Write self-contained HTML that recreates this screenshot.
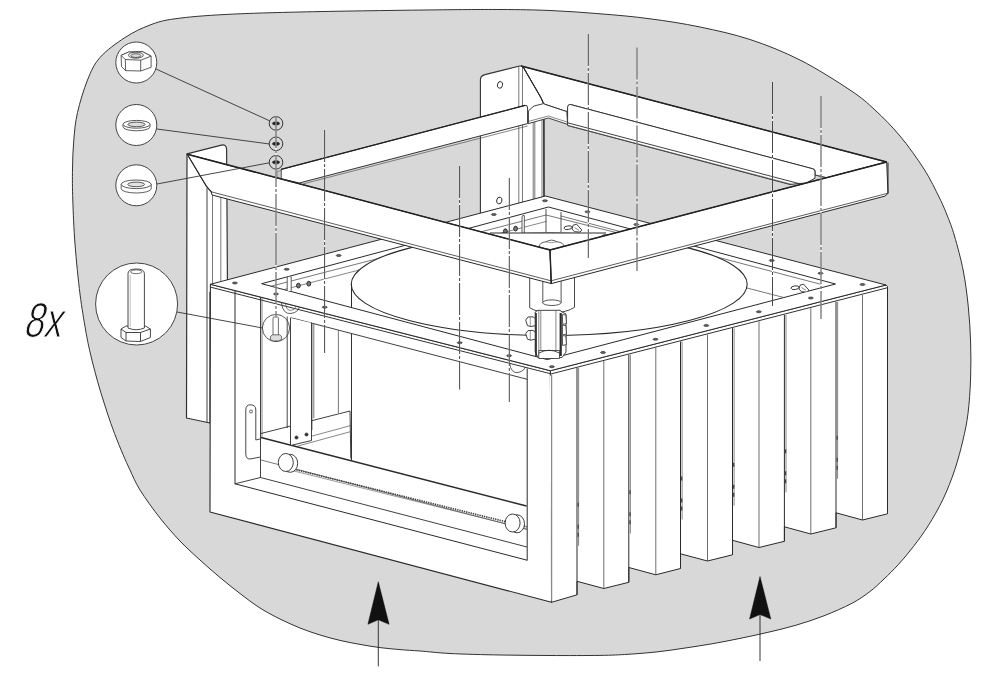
<!DOCTYPE html>
<html><head><meta charset="utf-8"><title>Assembly step</title>
<style>
html,body{margin:0;padding:0;background:#fff;}
body{width:1000px;height:675px;overflow:hidden;font-family:"Liberation Sans",sans-serif;}
svg{display:block}
</style></head><body>
<svg width="1000" height="675" viewBox="0 0 1000 675">
<rect width="1000" height="675" fill="#fff"/>
<path d="M300.0,12.0C333.3,11.2 391.7,10.4 425.0,10.0C458.3,9.6 479.2,9.4 500.0,9.5C520.8,9.6 533.3,9.8 550.0,10.5C566.7,11.2 583.3,12.4 600.0,13.8C616.7,15.1 633.3,16.5 650.0,18.8C666.7,21.0 683.3,23.5 700.0,27.0C716.7,30.5 733.3,34.0 750.0,39.5C766.7,45.0 783.3,51.6 800.0,60.0C816.7,68.4 837.5,81.7 850.0,90.0C862.5,98.3 866.7,102.3 875.0,110.0C883.3,117.7 891.8,126.2 900.0,136.0C908.2,145.8 917.4,158.7 924.0,169.0C930.6,179.3 935.7,190.3 939.5,198.0C943.3,205.7 944.5,208.7 947.0,215.0C949.5,221.3 951.8,226.7 954.5,236.0C957.2,245.3 961.0,259.2 963.3,271.0C965.6,282.8 967.1,295.0 968.3,306.8C969.5,318.6 970.2,330.1 970.6,342.0C971.0,353.9 971.0,366.1 970.6,378.0C970.2,389.9 969.3,403.2 968.0,413.5C966.7,423.8 965.2,430.6 963.0,440.0C960.8,449.4 958.1,459.7 954.8,469.6C951.5,479.5 947.5,489.9 943.0,499.3C938.5,508.7 933.1,518.0 928.1,525.9C923.1,533.8 918.2,540.3 913.3,546.7C908.4,553.1 903.4,559.0 898.5,564.4C893.6,569.8 888.8,574.5 884.0,579.0C879.2,583.5 875.3,587.5 870.0,591.5C864.7,595.5 859.7,599.2 852.0,603.3C844.3,607.3 833.3,612.1 824.0,615.8C814.7,619.4 805.3,622.5 796.0,625.2C786.7,628.0 777.3,630.1 768.0,632.3C758.7,634.5 749.3,636.5 740.0,638.4C730.7,640.3 721.3,642.2 712.0,643.8C702.7,645.4 693.3,646.8 684.0,648.2C674.7,649.6 665.3,651.0 656.0,652.0C646.7,653.0 637.3,653.7 628.0,654.3C618.7,654.9 613.0,655.2 600.0,655.4C587.0,655.6 566.7,655.6 550.0,655.5C533.3,655.4 516.7,655.3 500.0,655.0C483.3,654.7 463.3,654.2 450.0,653.5C436.7,652.8 428.3,651.6 420.0,651.0C411.7,650.4 406.7,650.2 400.0,649.6C393.3,649.0 386.7,648.5 380.0,647.6C373.3,646.7 366.7,645.6 360.0,644.4C353.3,643.2 346.7,642.0 340.0,640.4C333.3,638.8 326.7,637.1 320.0,635.0C313.3,632.9 306.7,630.7 300.0,628.0C293.3,625.3 286.7,622.3 280.0,619.0C273.3,615.7 266.7,612.2 260.0,608.0C253.3,603.8 246.7,598.6 240.0,593.5C233.3,588.4 226.7,583.1 220.0,577.5C213.3,571.9 206.7,566.1 200.0,560.0C193.3,553.9 186.7,548.0 180.0,541.0C173.3,534.0 166.7,526.5 160.0,518.0C153.3,509.5 145.0,498.0 140.0,490.0C135.0,482.0 132.8,475.9 130.0,470.0C127.2,464.1 125.6,460.6 123.0,454.5C120.4,448.4 117.2,440.6 114.6,433.7C112.0,426.8 109.6,419.9 107.3,413.0C105.0,406.1 102.8,399.1 100.7,392.2C98.6,385.3 96.7,378.4 94.9,371.5C93.1,364.6 91.2,357.6 89.7,350.7C88.2,343.8 87.2,339.4 85.6,330.0C84.0,320.6 81.8,308.3 80.0,294.0C78.2,279.7 76.2,259.7 75.0,244.0C73.8,228.3 73.2,212.5 72.8,200.0C72.4,187.5 72.3,179.0 72.5,169.0C72.7,159.0 72.9,149.4 73.8,140.0C74.6,130.6 75.2,122.5 77.5,112.5C79.8,102.5 83.8,89.2 87.5,80.0C91.2,70.8 93.8,64.6 100.0,57.5C106.2,50.4 116.7,42.9 125.0,37.5C133.3,32.1 141.7,28.1 150.0,25.0C158.3,21.9 162.5,20.5 175.0,18.8C187.5,17.0 204.2,15.6 225.0,14.5C245.8,13.4 266.7,12.8 300.0,12.0Z" fill="#d8d8d8" stroke="#333" stroke-width="1"/>
<path d="M187,153.8 L221.5,145.1 Q226.3,144.2 226.6,149 L227.5,292 L210,292 L210,423 L186.5,418 Z" fill="#fff" stroke="#333" stroke-width="1.2" stroke-linejoin="round"/>
<line x1="207.0" y1="187.5" x2="207.0" y2="422.5" stroke="#2a2a2a" stroke-width="0.9" />
<line x1="212.5" y1="193.5" x2="212.5" y2="284.0" stroke="#555" stroke-width="0.8" />
<line x1="220.8" y1="195.5" x2="220.8" y2="281.5" stroke="#555" stroke-width="0.8" />
<path d="M480.4,214 L480.4,80 Q480.4,75.6 485,74.6 L519.6,66 L521.2,66 L523.6,67.6 L541.2,98 L543.6,103.6 L544,197 L480.4,214 Z" fill="#fff" stroke="#333" stroke-width="1.1" stroke-linejoin="round"/>
<line x1="518.8" y1="66.5" x2="518.8" y2="204.0" stroke="#555" stroke-width="0.8" />
<line x1="522.5" y1="66.5" x2="522.5" y2="203.0" stroke="#555" stroke-width="0.8" />
<line x1="533.2" y1="122.0" x2="533.2" y2="200.0" stroke="#555" stroke-width="0.8" />
<line x1="534.8" y1="122.0" x2="534.8" y2="200.0" stroke="#555" stroke-width="0.8" />
<line x1="542.0" y1="118.0" x2="542.0" y2="197.5" stroke="#555" stroke-width="0.8" />
<line x1="544.0" y1="104.0" x2="544.0" y2="197.0" stroke="#333" stroke-width="1.3" />
<ellipse cx="500.0" cy="84.9" rx="2.6" ry="3.4" fill="#fff" stroke="#2a2a2a" stroke-width="0.9" transform="rotate(15 500 84.9)"/>
<ellipse cx="499.3" cy="200.5" rx="2.6" ry="3.4" fill="#fff" stroke="#2a2a2a" stroke-width="0.9" transform="rotate(15 499.3 200.5)"/>
<polygon points="210.4,284.3 550.4,370.7 551.5,602.3 210.0,512.0" fill="#fff" stroke="#2a2a2a" stroke-width="1.1" stroke-linejoin="round" />
<polygon points="550.4,370.7 551.5,602.3 577.0,594.8 577.0,581.3 603.8,588.5 628.8,582.3 628.8,567.5 655.8,574.8 680.5,568.5 680.5,553.8 707.5,561.0 732.5,554.8 732.5,540.3 759.0,547.5 784.4,541.3 784.4,526.8 810.8,534.0 836.0,527.8 836.0,512.8 862.5,520.0 887.5,513.8 887.5,286.5 886.0,285.0" fill="#fff" stroke="#2a2a2a" stroke-width="1.0" stroke-linejoin="round" />
<line x1="577.0" y1="367.9" x2="577.0" y2="594.8" stroke="#2a2a2a" stroke-width="1.0" />
<line x1="578.6" y1="367.9" x2="578.6" y2="545.8" stroke="#555" stroke-width="0.7" />
<line x1="578.2" y1="502.8" x2="578.2" y2="506.8" stroke="#444" stroke-width="1.3" />
<line x1="578.2" y1="524.8" x2="578.2" y2="528.8" stroke="#444" stroke-width="1.3" />
<line x1="578.2" y1="532.8" x2="578.2" y2="536.8" stroke="#444" stroke-width="1.3" />
<line x1="603.8" y1="361.1" x2="603.8" y2="588.5" stroke="#4a4a4a" stroke-width="0.8" />
<line x1="628.8" y1="354.7" x2="628.8" y2="582.3" stroke="#2a2a2a" stroke-width="1.0" />
<line x1="630.4" y1="354.7" x2="630.4" y2="533.3" stroke="#555" stroke-width="0.7" />
<line x1="630.0" y1="490.3" x2="630.0" y2="494.3" stroke="#444" stroke-width="1.3" />
<line x1="630.0" y1="512.3" x2="630.0" y2="516.3" stroke="#444" stroke-width="1.3" />
<line x1="630.0" y1="520.3" x2="630.0" y2="524.3" stroke="#444" stroke-width="1.3" />
<line x1="655.8" y1="347.8" x2="655.8" y2="574.8" stroke="#4a4a4a" stroke-width="0.8" />
<line x1="680.5" y1="341.5" x2="680.5" y2="568.5" stroke="#2a2a2a" stroke-width="1.0" />
<line x1="682.1" y1="341.5" x2="682.1" y2="519.5" stroke="#555" stroke-width="0.7" />
<line x1="681.7" y1="476.5" x2="681.7" y2="480.5" stroke="#444" stroke-width="1.3" />
<line x1="681.7" y1="498.5" x2="681.7" y2="502.5" stroke="#444" stroke-width="1.3" />
<line x1="681.7" y1="506.5" x2="681.7" y2="510.5" stroke="#444" stroke-width="1.3" />
<line x1="707.5" y1="334.6" x2="707.5" y2="561.0" stroke="#4a4a4a" stroke-width="0.8" />
<line x1="732.5" y1="328.2" x2="732.5" y2="554.8" stroke="#2a2a2a" stroke-width="1.0" />
<line x1="734.1" y1="328.2" x2="734.1" y2="505.8" stroke="#555" stroke-width="0.7" />
<line x1="733.7" y1="462.8" x2="733.7" y2="466.8" stroke="#444" stroke-width="1.3" />
<line x1="733.7" y1="484.8" x2="733.7" y2="488.8" stroke="#444" stroke-width="1.3" />
<line x1="733.7" y1="492.8" x2="733.7" y2="496.8" stroke="#444" stroke-width="1.3" />
<line x1="759.0" y1="321.4" x2="759.0" y2="547.5" stroke="#4a4a4a" stroke-width="0.8" />
<line x1="784.4" y1="314.9" x2="784.4" y2="541.3" stroke="#2a2a2a" stroke-width="1.0" />
<line x1="786.0" y1="314.9" x2="786.0" y2="492.3" stroke="#555" stroke-width="0.7" />
<line x1="785.6" y1="449.3" x2="785.6" y2="453.3" stroke="#444" stroke-width="1.3" />
<line x1="785.6" y1="471.3" x2="785.6" y2="475.3" stroke="#444" stroke-width="1.3" />
<line x1="785.6" y1="479.3" x2="785.6" y2="483.3" stroke="#444" stroke-width="1.3" />
<line x1="810.8" y1="308.2" x2="810.8" y2="534.0" stroke="#4a4a4a" stroke-width="0.8" />
<line x1="836.0" y1="301.8" x2="836.0" y2="527.8" stroke="#2a2a2a" stroke-width="1.0" />
<line x1="837.6" y1="301.8" x2="837.6" y2="478.8" stroke="#555" stroke-width="0.7" />
<line x1="837.2" y1="435.8" x2="837.2" y2="439.8" stroke="#444" stroke-width="1.3" />
<line x1="837.2" y1="457.8" x2="837.2" y2="461.8" stroke="#444" stroke-width="1.3" />
<line x1="837.2" y1="465.8" x2="837.2" y2="469.8" stroke="#444" stroke-width="1.3" />
<line x1="862.5" y1="295.0" x2="862.5" y2="520.0" stroke="#4a4a4a" stroke-width="0.8" />
<line x1="551.0" y1="375.5" x2="551.5" y2="600.8" stroke="#fff" stroke-width="2.4" />
<line x1="551.7" y1="374.8" x2="551.7" y2="602.2" stroke="#4a4a4a" stroke-width="0.8" />
<line x1="527.2" y1="368.5" x2="527.2" y2="560.6" stroke="#2a2a2a" stroke-width="1.0" />
<polygon points="210.4,284.3 545.5,196.0 886.0,285.0 550.4,370.7" fill="#fff" stroke="#2a2a2a" stroke-width="1.0" stroke-linejoin="round" />
<polyline points="210.4,287.1 551.2,373.9 887.3,287.8" fill="none" stroke="#333" stroke-width="1.0" stroke-linejoin="round" stroke-linecap="round" />
<polygon points="261.6,283.7 548.5,207.0 835.5,284.0 547.3,359.6" fill="#fff" stroke="#2a2a2a" stroke-width="1.0" stroke-linejoin="round" />
<ellipse cx="234.9" cy="283.0" rx="2.5" ry="1.0" fill="#666" stroke="#333" stroke-width="0.7" />
<ellipse cx="286.7" cy="269.3" rx="2.5" ry="1.0" fill="#666" stroke="#333" stroke-width="0.7" />
<ellipse cx="338.7" cy="255.5" rx="2.5" ry="1.0" fill="#666" stroke="#333" stroke-width="0.7" />
<ellipse cx="493.8" cy="214.5" rx="2.5" ry="1.0" fill="#666" stroke="#333" stroke-width="0.7" />
<ellipse cx="545.0" cy="200.8" rx="2.5" ry="1.0" fill="#666" stroke="#333" stroke-width="0.7" />
<ellipse cx="587.5" cy="211.8" rx="2.5" ry="1.0" fill="#666" stroke="#333" stroke-width="0.7" />
<ellipse cx="636.3" cy="224.5" rx="2.5" ry="1.0" fill="#666" stroke="#333" stroke-width="0.7" />
<ellipse cx="771.8" cy="260.5" rx="2.5" ry="1.0" fill="#666" stroke="#333" stroke-width="0.7" />
<ellipse cx="820.5" cy="273.3" rx="2.5" ry="1.0" fill="#666" stroke="#333" stroke-width="0.7" />
<ellipse cx="862.5" cy="284.5" rx="2.5" ry="1.0" fill="#666" stroke="#333" stroke-width="0.7" />
<ellipse cx="551.9" cy="366.7" rx="2.5" ry="1.0" fill="#666" stroke="#333" stroke-width="0.7" />
<ellipse cx="603.0" cy="352.5" rx="2.5" ry="1.0" fill="#666" stroke="#333" stroke-width="0.7" />
<ellipse cx="655.5" cy="339.3" rx="2.5" ry="1.0" fill="#666" stroke="#333" stroke-width="0.7" />
<ellipse cx="706.3" cy="325.5" rx="2.5" ry="1.0" fill="#666" stroke="#333" stroke-width="0.7" />
<ellipse cx="758.8" cy="311.8" rx="2.5" ry="1.0" fill="#666" stroke="#333" stroke-width="0.7" />
<ellipse cx="810.8" cy="298.0" rx="2.5" ry="1.0" fill="#666" stroke="#333" stroke-width="0.7" />
<ellipse cx="276.0" cy="294.0" rx="2.5" ry="1.0" fill="#666" stroke="#333" stroke-width="0.7" />
<ellipse cx="324.7" cy="307.2" rx="2.5" ry="1.0" fill="#666" stroke="#333" stroke-width="0.7" />
<ellipse cx="459.7" cy="342.7" rx="2.5" ry="1.0" fill="#666" stroke="#333" stroke-width="0.7" />
<ellipse cx="509.1" cy="355.7" rx="2.5" ry="1.0" fill="#666" stroke="#333" stroke-width="0.7" />
<clipPath id="cpTop"><polygon points="261.6,283.7 548.5,207 835.5,284 547.3,359.6"/></clipPath>
<g clip-path="url(#cpTop)">
<polyline points="270.4,286.4 546.0,215.0 620.0,233.5" fill="none" stroke="#555" stroke-width="0.8" stroke-linejoin="round" stroke-linecap="round" />
<polyline points="277.6,291.2 546.0,221.5" fill="none" stroke="#555" stroke-width="0.7" stroke-linejoin="round" stroke-linecap="round" />
<polyline points="561.0,216.0 820.4,284.2" fill="none" stroke="#555" stroke-width="0.8" stroke-linejoin="round" stroke-linecap="round" />
<polyline points="690.0,273.3 783.0,297.3" fill="none" stroke="#555" stroke-width="0.8" stroke-linejoin="round" stroke-linecap="round" />
<line x1="546.0" y1="209.0" x2="546.0" y2="232.0" stroke="#2a2a2a" stroke-width="0.8" />
<line x1="561.0" y1="212.0" x2="561.0" y2="232.0" stroke="#2a2a2a" stroke-width="0.8" />
<path d="M522,233 L522,217 Q522.5,214.6 524.3,215.6 L524.3,233" fill="#fff" stroke="#333" stroke-width="0.8"/>
<ellipse cx="505.4" cy="231.2" rx="1.9" ry="2.4" fill="#777" stroke="#222" stroke-width="0.9" />
<ellipse cx="515.6" cy="228.6" rx="1.9" ry="2.4" fill="#777" stroke="#222" stroke-width="0.9" />
<ellipse cx="298.4" cy="285.6" rx="1.9" ry="2.4" fill="#777" stroke="#222" stroke-width="0.9" />
<ellipse cx="308.8" cy="283.7" rx="1.9" ry="2.4" fill="#777" stroke="#222" stroke-width="0.9" />
<path d="M287.2,291 L287.2,278 Q288.5,274.5 291.2,277 L291.2,291" fill="#fff" stroke="#333" stroke-width="0.8"/>
<ellipse cx="549.2" cy="284.3" rx="198.0" ry="51.2" fill="#fff" stroke="#2a2a2a" stroke-width="1.1" />
<line x1="351.5" y1="284.0" x2="351.5" y2="309.0" stroke="#2a2a2a" stroke-width="1" />
<polygon points="490.0,233.0 606.0,233.0 548.0,266.0" fill="#fff" stroke="none" stroke-width="1" stroke-linejoin="round" />
<line x1="490.0" y1="233.0" x2="606.0" y2="233.0" stroke="#2a2a2a" stroke-width="1.0" />
<path d="M539.5,246 Q539.5,242.5 546,241.8 Q551.5,238.5 557,241.8 Q563.5,242.5 563.5,246 Q563.5,249 551.5,249.5 Q539.5,249 539.5,246 Z" fill="#fff" stroke="#333" stroke-width="0.8"/>
<path d="M546,241.8 Q551.5,243.5 557,241.8" fill="none" stroke="#555" stroke-width="0.6"/>
<ellipse cx="795.0" cy="287.7" rx="4.0" ry="1.8" fill="#fff" stroke="#2a2a2a" stroke-width="0.9" transform="rotate(-8 795 287.7)"/>
<polygon points="800.0,285.3 803.5,284.1 808.8,290.0 807.0,292.1 801.5,291.7 799.0,289.0" fill="#fff" stroke="#2a2a2a" stroke-width="0.9" stroke-linejoin="round" />
<line x1="801.5" y1="287.5" x2="806.0" y2="290.3" stroke="#555" stroke-width="0.7" />
<ellipse cx="568.0" cy="227.7" rx="4.0" ry="1.8" fill="#fff" stroke="#2a2a2a" stroke-width="0.9" transform="rotate(-8 568 227.7)"/>
<polygon points="573.0,225.3 576.5,224.1 581.8,230.0 580.0,232.1 574.5,231.7 572.0,229.0" fill="#fff" stroke="#2a2a2a" stroke-width="0.9" stroke-linejoin="round" />
<line x1="574.5" y1="227.5" x2="579.0" y2="230.3" stroke="#555" stroke-width="0.7" />
</g>
<line x1="235.0" y1="290.5" x2="235.0" y2="483.8" stroke="#2a2a2a" stroke-width="1.0" />
<line x1="260.5" y1="297.0" x2="260.5" y2="477.5" stroke="#2a2a2a" stroke-width="0.9" />
<line x1="262.0" y1="297.5" x2="262.0" y2="437.0" stroke="#555" stroke-width="0.7" />
<line x1="291.2" y1="317.8" x2="527.2" y2="379.3" stroke="#2a2a2a" stroke-width="0.9" />
<line x1="287.2" y1="316.5" x2="287.2" y2="428.0" stroke="#333" stroke-width="0.9" />
<line x1="312.0" y1="323.0" x2="312.0" y2="430.0" stroke="#555" stroke-width="0.8" />
<line x1="313.8" y1="323.5" x2="313.8" y2="418.0" stroke="#555" stroke-width="0.8" />
<line x1="338.4" y1="330.0" x2="338.4" y2="413.0" stroke="#555" stroke-width="0.8" />
<line x1="351.5" y1="334.0" x2="351.5" y2="460.0" stroke="#333" stroke-width="1.0" />
<line x1="235.0" y1="483.8" x2="527.0" y2="560.2" stroke="#2a2a2a" stroke-width="1.0" />
<line x1="260.5" y1="477.5" x2="527.0" y2="547.0" stroke="#2a2a2a" stroke-width="0.9" />
<polyline points="235.0,483.8 260.5,477.5" fill="none" stroke="#2a2a2a" stroke-width="0.9" stroke-linejoin="round" stroke-linecap="round" />
<line x1="261.0" y1="437.5" x2="526.5" y2="506.0" stroke="#2a2a2a" stroke-width="1.5" />
<line x1="261.0" y1="460.0" x2="527.0" y2="529.5" stroke="#555" stroke-width="0.8" />
<line x1="283.0" y1="466.5" x2="527.0" y2="527.0" stroke="#444" stroke-width="1.6" stroke-dasharray="1.4 0.9"/>
<line x1="283.0" y1="468.3" x2="527.0" y2="529.0" stroke="#555" stroke-width="0.6" />
<polyline points="261.0,433.5 350.0,411.0 350.8,458.0" fill="none" stroke="#2a2a2a" stroke-width="0.9" stroke-linejoin="round" stroke-linecap="round" />
<polyline points="290.0,442.0 351.0,425.5" fill="none" stroke="#555" stroke-width="0.7" stroke-linejoin="round" stroke-linecap="round" />
<polyline points="298.0,446.0 351.0,431.5" fill="none" stroke="#555" stroke-width="0.7" stroke-linejoin="round" stroke-linecap="round" />
<polygon points="290.5,318.0 311.5,323.0 311.5,440.5 290.5,445.5" fill="#fff" stroke="none" stroke-width="0.9" stroke-linejoin="round" />
<polyline points="290.5,318.0 290.5,445.5 311.5,440.5 311.5,323.0" fill="none" stroke="#2a2a2a" stroke-width="0.9" stroke-linejoin="round" stroke-linecap="round" />
<circle cx="296.5" cy="437.5" r="1.6" fill="#333" stroke="#2a2a2a" stroke-width="0.6"/>
<circle cx="306.5" cy="434.5" r="1.6" fill="#333" stroke="#2a2a2a" stroke-width="0.6"/>
<path d="M245.8,410 Q245.8,404.5 250.8,404.8 Q255.8,405 255.8,410 L255.8,440 L260.5,438.8 L260.5,457 L250,459 Q245.8,459 245.8,454 Z" fill="#fff" stroke="#333" stroke-width="0.9"/>
<circle cx="251.0" cy="411.5" r="1.5" fill="#fff" stroke="#2a2a2a" stroke-width="0.7"/>
<ellipse cx="290.2" cy="463.3" rx="7.5" ry="9.0" fill="#fff" stroke="#2a2a2a" stroke-width="0.9" />
<ellipse cx="285.8" cy="462.5" rx="7.5" ry="9.0" fill="#fff" stroke="#2a2a2a" stroke-width="0.9" />
<ellipse cx="517.0" cy="523.8" rx="7.5" ry="9.0" fill="#fff" stroke="#2a2a2a" stroke-width="0.9" />
<ellipse cx="512.6" cy="523.0" rx="7.5" ry="9.0" fill="#fff" stroke="#2a2a2a" stroke-width="0.9" />
<path d="M281.5,303 Q283,314.5 291,313.5 Q298.5,312 299,307.5" fill="none" stroke="#333" stroke-width="0.8"/>
<path d="M285.5,304 Q286.5,311 291,310.3 Q295.5,309.5 295.5,306.6" fill="none" stroke="#555" stroke-width="0.7"/>
<path d="M509.5,363 Q511,373.5 518,372.5 Q524.5,371 525,367" fill="none" stroke="#333" stroke-width="0.8"/>
<path d="M529.7,276 L529.7,307.8 Q537,312.5 552,313 Q567,312.5 574.5,307.3 L574.5,276 Z" fill="#fff" stroke="#333" stroke-width="0.9"/>
<line x1="542.8" y1="280.0" x2="542.8" y2="302.7" stroke="#2a2a2a" stroke-width="0.8" />
<line x1="561.1" y1="280.0" x2="561.1" y2="302.7" stroke="#2a2a2a" stroke-width="0.8" />
<ellipse cx="551.9" cy="302.7" rx="9.2" ry="2.8" fill="#fff" stroke="#2a2a2a" stroke-width="0.8" />
<polygon points="535.2,312.0 538.0,310.3 560.0,310.3 562.0,312.0 566.0,314.0 566.0,352.0 562.0,357.5 538.0,357.5 535.2,352.0" fill="#fff" stroke="#2a2a2a" stroke-width="0.9" stroke-linejoin="round" />
<line x1="536.0" y1="313.0" x2="536.0" y2="356.0" stroke="#2a2a2a" stroke-width="1.7" />
<line x1="560.7" y1="313.0" x2="560.7" y2="356.0" stroke="#2a2a2a" stroke-width="2.2" />
<line x1="538.8" y1="311.0" x2="538.8" y2="356.0" stroke="#555" stroke-width="0.7" />
<line x1="540.8" y1="311.0" x2="540.8" y2="350.0" stroke="#555" stroke-width="0.7" />
<line x1="555.9" y1="311.0" x2="555.9" y2="350.0" stroke="#555" stroke-width="0.7" />
<polygon points="538.8,350.5 559.5,350.5 559.5,358.5 538.8,358.5" fill="#fff" stroke="#2a2a2a" stroke-width="0.8" stroke-linejoin="round" />
<path d="M539,353 Q549,347.5 559.4,353" fill="none" stroke="#333" stroke-width="0.9"/>
<polygon points="525.7,320.1 528.0,317.0 533.0,316.8 535.2,318.6 535.2,325.6 531.0,326.6 527.5,325.6" fill="#fff" stroke="#2a2a2a" stroke-width="0.9" stroke-linejoin="round" />
<line x1="530.3" y1="317.1" x2="530.3" y2="326.6" stroke="#555" stroke-width="0.6" />
<polygon points="525.7,333.7 528.0,330.6 533.0,330.4 535.2,332.2 535.2,339.2 531.0,340.2 527.5,339.2" fill="#fff" stroke="#2a2a2a" stroke-width="0.9" stroke-linejoin="round" />
<line x1="530.3" y1="330.7" x2="530.3" y2="340.2" stroke="#555" stroke-width="0.6" />
<polygon points="562.4,314.5 565.8,315.1 566.5,323.5 562.6,324.5" fill="#fff" stroke="#2a2a2a" stroke-width="0.8" stroke-linejoin="round" />
<polygon points="562.4,325.0 565.8,325.6 566.5,334.0 562.6,335.0" fill="#fff" stroke="#2a2a2a" stroke-width="0.8" stroke-linejoin="round" />
<polygon points="562.4,335.5 565.8,336.1 566.5,344.5 562.6,345.5" fill="#fff" stroke="#2a2a2a" stroke-width="0.8" stroke-linejoin="round" />
<polygon points="521.2,66.0 886.7,162.0 826.0,177.9 826.0,177.6 815.0,175.0 815.0,170.4 813.7,169.1 570.0,104.4 566.8,111.6 545.2,104.4 543.6,103.6 541.2,98.0 523.6,67.6" fill="#fff" stroke="#2a2a2a" stroke-width="1.0" stroke-linejoin="round" />
<line x1="521.2" y1="66.0" x2="886.7" y2="162.0" stroke="#222" stroke-width="1.5" />
<polyline points="523.6,67.6 541.2,98.0 543.6,103.6" fill="none" stroke="#2a2a2a" stroke-width="1.0" stroke-linejoin="round" stroke-linecap="round" />
<path d="M567.6,125.5 L567.6,107 Q567.8,104 570.5,104.5 L812.5,168.7 Q815,169.5 815,172 L815,178.2 L806.0,183.1 L798.7,183.5 L790,184.5 Z" fill="#fff" stroke="#333" stroke-width="1" stroke-linejoin="round"/>
<line x1="567.6" y1="122.8" x2="798.7" y2="183.5" stroke="#2a2a2a" stroke-width="0.9" />
<line x1="567.6" y1="125.4" x2="792.0" y2="184.4" stroke="#555" stroke-width="0.7" />
<polyline points="815.0,175.0 826.0,177.6" fill="none" stroke="#555" stroke-width="0.7" stroke-linejoin="round" stroke-linecap="round" />
<polygon points="528.4,110.8 534.0,106.0 543.6,103.6 545.2,104.4 566.8,111.6 567.6,124.4 548.4,118.0 528.4,123.6" fill="#fff" stroke="#2a2a2a" stroke-width="0.9" stroke-linejoin="round" />
<polyline points="528.4,121.4 548.4,116.0 567.6,122.2" fill="none" stroke="#555" stroke-width="0.7" stroke-linejoin="round" stroke-linecap="round" />
<path d="M281.1,178.8 L281.1,169.4 L525,105.4 Q527.6,104.8 527.6,108 L527.6,123.6 L299.2,183 Z" fill="#fff" stroke="#333" stroke-width="1" stroke-linejoin="round"/>
<line x1="303.0" y1="183.9" x2="527.6" y2="126.0" stroke="#555" stroke-width="0.7" />
<line x1="281.1" y1="169.4" x2="525.0" y2="105.4" stroke="#222" stroke-width="1.3" />
<polygon points="277.0,171.5 281.1,170.5 281.1,178.5 277.0,177.6" fill="#ccc" stroke="#555" stroke-width="0.6" stroke-linejoin="round" />
<polygon points="187.2,154.2 550.0,250.0 551.3,283.6 212.0,195.0 211.2,191.8 206.4,186.2" fill="#fff" stroke="#2a2a2a" stroke-width="1.0" stroke-linejoin="round" />
<line x1="187.2" y1="154.2" x2="550.0" y2="250.0" stroke="#222" stroke-width="1.5" />
<line x1="211.2" y1="191.8" x2="551.0" y2="280.8" stroke="#333" stroke-width="0.8" />
<polyline points="187.2,154.2 206.4,186.2 211.2,191.8" fill="none" stroke="#2a2a2a" stroke-width="1.1" stroke-linejoin="round" stroke-linecap="round" />
<polygon points="550.0,250.0 886.7,162.0 888.0,193.4 885.0,196.1 551.3,283.6" fill="#fff" stroke="#2a2a2a" stroke-width="1.0" stroke-linejoin="round" />
<line x1="550.0" y1="250.0" x2="886.7" y2="162.0" stroke="#222" stroke-width="1.5" />
<line x1="551.0" y1="280.8" x2="888.0" y2="193.2" stroke="#333" stroke-width="0.8" />
<line x1="550.0" y1="250.0" x2="551.3" y2="283.6" stroke="#222" stroke-width="1.4" />
<line x1="888.0" y1="193.4" x2="888.0" y2="162.5" stroke="#2a2a2a" stroke-width="1.0" />
<line x1="156.0" y1="69.0" x2="270.0" y2="121.0" stroke="#333" stroke-width="0.9" />
<line x1="157.0" y1="129.0" x2="269.5" y2="144.0" stroke="#333" stroke-width="0.9" />
<line x1="157.0" y1="184.0" x2="269.3" y2="162.8" stroke="#333" stroke-width="0.9" />
<line x1="177.0" y1="312.0" x2="262.6" y2="328.0" stroke="#333" stroke-width="0.9" />
<circle cx="136.3" cy="62.5" r="20.5" fill="#fff" stroke="#444" stroke-width="1.0"/>
<circle cx="136.3" cy="125.0" r="20.5" fill="#fff" stroke="#444" stroke-width="1.0"/>
<circle cx="136.3" cy="185.3" r="20.5" fill="#fff" stroke="#444" stroke-width="1.0"/>
<circle cx="136.6" cy="304.0" r="41.0" fill="#fff" stroke="#444" stroke-width="1.0"/>
<g stroke="#333" stroke-width="0.8" fill="#fff" stroke-linejoin="round"><polygon points="121.1,55.4 128.5,52.1 142.6,51.7 151.1,56.1 151.1,67.3 140.7,71 125.6,70.6 121.5,66.5"/><polygon points="121.1,55.4 128.5,52.1 142.6,51.7 151.1,56.1 140.7,60.2 125.2,59.5"/><line x1="125.3" y1="59.5" x2="125.6" y2="70.6"/><line x1="140.7" y1="60.2" x2="140.7" y2="71"/><ellipse cx="135.9" cy="55.2" rx="7.4" ry="3"/><ellipse cx="135.9" cy="55.6" rx="5" ry="1.9" fill="#ddd"/></g>
<g stroke="#333" stroke-width="0.8" fill="#fff"><path d="M123,124.3 L123,126.9 A13.5,3.9 0 0 0 150,126.9 L150,124.3 Z"/><ellipse cx="136.5" cy="124.3" rx="13.5" ry="3.9"/><ellipse cx="136.5" cy="124.4" rx="8.6" ry="2.3" fill="#ddd"/></g>
<g stroke="#333" stroke-width="0.8" fill="#fff"><path d="M121.2,184.3 L121.2,188.7 A15,4.3 0 0 0 151.2,188.7 L151.2,184.3 Z"/><ellipse cx="136.2" cy="184.3" rx="15" ry="4.3"/><ellipse cx="136.2" cy="184.4" rx="8.4" ry="2.3" fill="#e4e4e4"/></g>
<g stroke="#333" stroke-width="0.9" fill="#fff" stroke-linejoin="round"><polygon points="121,329 126,326 145.5,326 150.4,329 150.4,337.5 140.5,341.5 126,341 121,337.5"/><polyline points="121,329 126,332.5 140.5,332.5 150.4,329" fill="none"/><line x1="126" y1="332.5" x2="126" y2="341"/><line x1="140.5" y1="332.5" x2="140.5" y2="341.5"/><path d="M128,328 L128,273.5 Q128,269 136.2,269 Q144.4,269 144.4,273.5 L144.4,328 Q136.2,331.5 128,328 Z"/><ellipse cx="136.2" cy="271.8" rx="5.6" ry="1.9" stroke-width="0.7"/><line x1="130.2" y1="275" x2="130.2" y2="327" stroke="#999" stroke-width="0.6"/></g>
<circle cx="276.0" cy="123.4" r="6.8" fill="none" stroke="#333" stroke-width="1.0"/>
<ellipse cx="276.0" cy="123.4" rx="3.6" ry="1.7" fill="#222" stroke="#2a2a2a" stroke-width="0.5" />
<circle cx="276.0" cy="143.8" r="6.8" fill="none" stroke="#333" stroke-width="1.0"/>
<ellipse cx="276.0" cy="143.8" rx="3.6" ry="1.7" fill="#222" stroke="#2a2a2a" stroke-width="0.5" />
<circle cx="276.0" cy="162.3" r="6.8" fill="none" stroke="#333" stroke-width="1.0"/>
<ellipse cx="276.0" cy="162.3" rx="3.6" ry="1.7" fill="#222" stroke="#2a2a2a" stroke-width="0.5" />
<circle cx="276.0" cy="328.0" r="13.6" fill="none" stroke="#444" stroke-width="0.9"/>
<g stroke="#333" stroke-width="0.7" fill="#fff"><rect x="273" y="317" width="5.4" height="18.5" rx="1"/><polygon points="270.4,336.5 272.5,334.8 279.5,334.8 281.6,336.5 281.6,339.5 278.5,341 273,341 270.4,339.5" fill="#ddd"/></g>
<line x1="276.0" y1="116.0" x2="276.0" y2="317.0" stroke="#fff" stroke-width="1.1" />
<line x1="276.0" y1="116.0" x2="276.0" y2="317.0" stroke="#333" stroke-width="0.9" stroke-dasharray="32 2 3 2"/>
<line x1="324.6" y1="130.0" x2="324.6" y2="353.0" stroke="#fff" stroke-width="1.1" />
<line x1="324.6" y1="130.0" x2="324.6" y2="353.0" stroke="#333" stroke-width="0.9" stroke-dasharray="32 2 3 2"/>
<line x1="459.6" y1="166.0" x2="459.6" y2="389.5" stroke="#fff" stroke-width="1.1" />
<line x1="459.6" y1="166.0" x2="459.6" y2="389.5" stroke="#333" stroke-width="0.9" stroke-dasharray="32 2 3 2"/>
<line x1="509.3" y1="178.0" x2="509.3" y2="402.0" stroke="#fff" stroke-width="1.1" />
<line x1="509.3" y1="178.0" x2="509.3" y2="402.0" stroke="#333" stroke-width="0.9" stroke-dasharray="32 2 3 2"/>
<line x1="588.3" y1="34.0" x2="588.3" y2="258.0" stroke="#fff" stroke-width="1.1" />
<line x1="588.3" y1="34.0" x2="588.3" y2="258.0" stroke="#333" stroke-width="0.9" stroke-dasharray="32 2 3 2"/>
<line x1="637.0" y1="47.5" x2="637.0" y2="271.0" stroke="#fff" stroke-width="1.1" />
<line x1="637.0" y1="47.5" x2="637.0" y2="271.0" stroke="#333" stroke-width="0.9" stroke-dasharray="32 2 3 2"/>
<line x1="772.5" y1="82.0" x2="772.5" y2="306.0" stroke="#fff" stroke-width="1.1" />
<line x1="772.5" y1="82.0" x2="772.5" y2="306.0" stroke="#333" stroke-width="0.9" stroke-dasharray="32 2 3 2"/>
<line x1="821.0" y1="96.0" x2="821.0" y2="319.0" stroke="#fff" stroke-width="1.1" />
<line x1="821.0" y1="96.0" x2="821.0" y2="319.0" stroke="#333" stroke-width="0.9" stroke-dasharray="32 2 3 2"/>
<line x1="378.3" y1="611.8" x2="378.3" y2="666.3" stroke="#222" stroke-width="0.9" />
<polygon points="378.3,581.8 389.1,624.3 378.3,619.8 367.9,624.3" fill="#111" stroke="#111" stroke-width="0.5" stroke-linejoin="round" />
<line x1="760.0" y1="606.5" x2="760.0" y2="661.0" stroke="#222" stroke-width="0.9" />
<polygon points="760.0,576.5 770.8,619.0 760.0,614.5 749.6,619.0" fill="#111" stroke="#111" stroke-width="0.5" stroke-linejoin="round" />
<text x="0" y="0" transform="translate(22.8,337.3) skewX(-14) scale(0.73,1)" font-family="'Liberation Sans', sans-serif" font-size="49" fill="#111" stroke="#fff" stroke-width="1.0" style="filter:grayscale(1)">8x</text>
</svg>
</body></html>
